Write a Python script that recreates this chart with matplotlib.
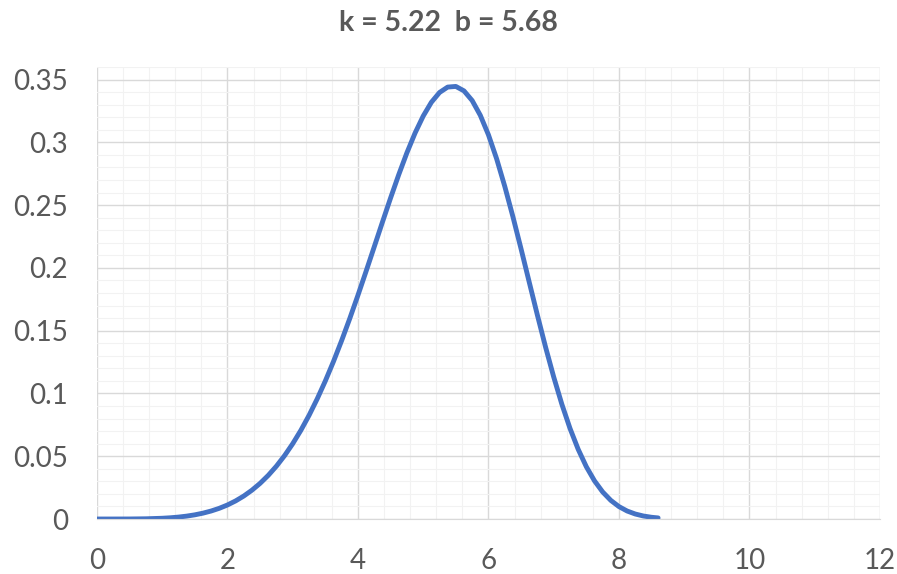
import matplotlib.pyplot as plt
import matplotlib.ticker as ticker

# Curve values (Weibull-shaped density)
x_vals = [0, 0.25, 0.5, 0.75, 1, 1.125, 1.25, 1.375, 1.5, 1.625, 1.75, 1.875,
          2, 2.125, 2.25, 2.375, 2.5, 2.625, 2.75, 2.875, 3, 3.125, 3.25,
          3.375, 3.5, 3.625, 3.75, 3.875, 4, 4.125, 4.25, 4.375, 4.5, 4.625,
          4.75, 4.875, 5, 5.125, 5.25, 5.375, 5.5, 5.625, 5.75, 5.875, 6,
          6.125, 6.25, 6.375, 6.5, 6.625, 6.75, 6.875, 7, 7.125, 7.25, 7.375,
          7.5, 7.625, 7.75, 7.875, 8, 8.125, 8.25, 8.375, 8.5, 8.6]
y_vals = [0, 0.000002, 0.00003, 0.00018, 0.0006, 0.00099, 0.00154, 0.00231,
          0.00333, 0.00467, 0.00638, 0.00853, 0.01118, 0.01442, 0.01831,
          0.02295, 0.0284, 0.03475, 0.04208, 0.05047, 0.05997, 0.07064,
          0.08252, 0.09564, 0.10996, 0.12548, 0.14213, 0.15976, 0.17825,
          0.19738, 0.21688, 0.23644, 0.2557, 0.27425, 0.29166, 0.30737,
          0.32093, 0.33188, 0.33969, 0.344, 0.34452, 0.34097, 0.33329,
          0.32152, 0.30595, 0.28692, 0.26491, 0.24073, 0.21505, 0.18861,
          0.16236, 0.13695, 0.11312, 0.09137, 0.07212, 0.05552, 0.04164,
          0.0304, 0.02156, 0.01484, 0.00989, 0.00638, 0.00398, 0.00239,
          0.00138, 0.00087]

title = "k = 5.22  b = 5.68"

plt.rcParams['font.family'] = ['Lato', 'DejaVu Sans']

fig = plt.figure(figsize=(8.97, 5.74), dpi=100)
ax = fig.add_axes([0.1081, 0.0958, 0.8729, 0.7875])

ax.plot(x_vals, y_vals, color="#4472C4", linewidth=3.5,
        solid_capstyle="round", solid_joinstyle="round")

ax.set_xlim(0, 12)
ax.set_ylim(0, 0.36)
ax.xaxis.set_major_locator(ticker.MultipleLocator(2))
ax.xaxis.set_minor_locator(ticker.MultipleLocator(0.4))
ax.yaxis.set_major_locator(ticker.FixedLocator([0, 0.05, 0.1, 0.15, 0.2, 0.25, 0.3, 0.35]))
ax.yaxis.set_minor_locator(ticker.MultipleLocator(0.01))
ax.yaxis.set_major_formatter(ticker.FuncFormatter(lambda v, _: "0" if v == 0 else ("%g" % round(v, 2))))

ax.grid(which="major", color="#D9D9D9", linewidth=1.0)
ax.grid(which="minor", color="#F2F2F2", linewidth=0.8)
ax.set_axisbelow(True)
for s in ax.spines.values():
    s.set_visible(False)
ax.spines["bottom"].set_visible(True)
ax.spines["bottom"].set_color("#D9D9D9")

ax.tick_params(which="both", length=0)
ax.tick_params(axis="both", labelsize=20, labelcolor="#595959")
ax.tick_params(axis="x", pad=21)
ax.tick_params(axis="y", pad=21)

fig.text(0.5, 0.96, title, ha="center", va="center", fontsize=20.5,
         fontweight="bold", color="#595959")

plt.savefig("out.png", dpi=100)
